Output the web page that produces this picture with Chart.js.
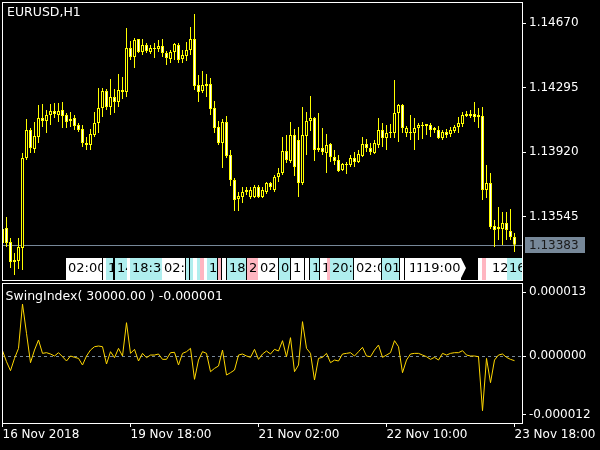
<!DOCTYPE html>
<html>
<head>
<meta charset="utf-8">
<script src="https://cdn.jsdelivr.net/npm/chart.js@4.4.0/dist/chart.umd.min.js"></script>
<style>
  html, body { margin: 0; padding: 0; background: #000; }
  #wrap { position: relative; width: 600px; height: 450px; background: #000; overflow: hidden; }
  canvas { position: absolute; left: 0; }
</style>
</head>
<body>
<div id="wrap">
  <canvas id="price" width="600" height="282" style="top:0"></canvas>
  <canvas id="swing" width="600" height="168" style="top:282px"></canvas>
</div>
<script>
// EURUSD H1 bars, oldest first (bar index 0 .. 128)
const opens = [
  1.13393, 1.13480, 1.13399, 1.13294, 1.13288, 1.13364, 1.13887, 1.14050, 1.13939, 1.14009,
  1.14119, 1.14102, 1.14137, 1.14160, 1.14137, 1.14166, 1.14137, 1.14102, 1.14119, 1.14079,
  1.14056, 1.13974, 1.13962, 1.14021, 1.14090, 1.14178, 1.14276, 1.14183, 1.14242, 1.14213,
  1.14282, 1.14271, 1.14526, 1.14474, 1.14579, 1.14503, 1.14544, 1.14503, 1.14526, 1.14521,
  1.14538, 1.14497, 1.14463, 1.14503, 1.14544, 1.14463, 1.14480, 1.14515, 1.14579, 1.14311,
  1.14276, 1.14306, 1.14317, 1.14178, 1.14067, 1.13974, 1.14096, 1.13904, 1.13759, 1.13649,
  1.13660, 1.13689, 1.13660, 1.13660, 1.13718, 1.13660, 1.13689, 1.13742, 1.13701, 1.13776,
  1.13800, 1.13928, 1.13869, 1.14021, 1.13992, 1.13742, 1.14015, 1.14102, 1.14119, 1.13933,
  1.13945, 1.13916, 1.13968, 1.13893, 1.13875, 1.13817, 1.13852, 1.13846, 1.13887, 1.13864,
  1.13899, 1.13968, 1.13945, 1.13916, 1.13962, 1.14050, 1.14003, 1.14032, 1.14032, 1.14149,
  1.14195, 1.14032, 1.14038, 1.14032, 1.14061, 1.14073, 1.14073, 1.14079, 1.14050, 1.14050,
  1.14003, 1.14038, 1.14026, 1.14044, 1.14067, 1.14085, 1.14131, 1.14143, 1.14143, 1.14125,
  1.14131, 1.13701, 1.13742, 1.13492, 1.13474, 1.13474, 1.13509, 1.13463, 1.13428
];
const highs = [
  1.13492, 1.13544, 1.13422, 1.13335, 1.13422, 1.13916, 1.14114, 1.14061, 1.14096, 1.14195,
  1.14201, 1.14166, 1.14201, 1.14207, 1.14207, 1.14213, 1.14149, 1.14154, 1.14137, 1.14090,
  1.14079, 1.14009, 1.14056, 1.14154, 1.14294, 1.14294, 1.14288, 1.14346, 1.14288, 1.14375,
  1.14358, 1.14643, 1.14567, 1.14585, 1.14579, 1.14579, 1.14556, 1.14544, 1.14556, 1.14573,
  1.14579, 1.14509, 1.14515, 1.14556, 1.14556, 1.14515, 1.14561, 1.14649, 1.14724, 1.14369,
  1.14393, 1.14375, 1.14352, 1.14218, 1.14102, 1.14114, 1.14131, 1.13933, 1.13771, 1.13689,
  1.13718, 1.13718, 1.13718, 1.13730, 1.13730, 1.13718, 1.13747, 1.13747, 1.13788, 1.13829,
  1.14009, 1.14021, 1.14096, 1.14056, 1.14067, 1.14183, 1.14154, 1.14247, 1.14125, 1.14149,
  1.14061, 1.14026, 1.13974, 1.13933, 1.13904, 1.13858, 1.13864, 1.13904, 1.13922, 1.13933,
  1.14009, 1.13997, 1.13974, 1.13992, 1.14119, 1.14090, 1.14079, 1.14085, 1.14341, 1.14201,
  1.14201, 1.14073, 1.14137, 1.14119, 1.14090, 1.14096, 1.14085, 1.14090, 1.14067, 1.14073,
  1.14050, 1.14056, 1.14067, 1.14079, 1.14125, 1.14154, 1.14160, 1.14166, 1.14213, 1.14178,
  1.14183, 1.13846, 1.13800, 1.13526, 1.13602, 1.13573, 1.13573, 1.13590, 1.13451
];
const lows = [
  1.13364, 1.13369, 1.13247, 1.13207, 1.13242, 1.13236, 1.13875, 1.13916, 1.13916, 1.13974,
  1.14067, 1.14032, 1.14079, 1.14119, 1.14096, 1.14061, 1.14061, 1.14067, 1.14050, 1.14038,
  1.13951, 1.13933, 1.13933, 1.14009, 1.14032, 1.14125, 1.14166, 1.14137, 1.14149, 1.14183,
  1.14230, 1.14242, 1.14457, 1.14410, 1.14497, 1.14486, 1.14497, 1.14492, 1.14468, 1.14503,
  1.14474, 1.14428, 1.14439, 1.14457, 1.14439, 1.14439, 1.14451, 1.14486, 1.14282, 1.14213,
  1.14265, 1.14242, 1.14137, 1.14032, 1.13962, 1.13829, 1.13887, 1.13724, 1.13579, 1.13579,
  1.13625, 1.13672, 1.13649, 1.13654, 1.13654, 1.13654, 1.13678, 1.13701, 1.13689, 1.13747,
  1.13788, 1.13858, 1.13858, 1.13782, 1.13660, 1.13730, 1.13904, 1.14044, 1.13869, 1.13922,
  1.13904, 1.13800, 1.13864, 1.13846, 1.13806, 1.13811, 1.13794, 1.13835, 1.13835, 1.13858,
  1.13893, 1.13922, 1.13904, 1.13910, 1.13945, 1.13951, 1.13933, 1.14003, 1.14003, 1.13980,
  1.14032, 1.14009, 1.13992, 1.13933, 1.13992, 1.13997, 1.14021, 1.14009, 1.14032, 1.13997,
  1.13992, 1.14003, 1.14009, 1.14032, 1.14032, 1.14067, 1.14125, 1.14119, 1.14096, 1.14061,
  1.13643, 1.13654, 1.13474, 1.13369, 1.13410, 1.13381, 1.13410, 1.13410, 1.13340
];
const closes = [
  1.13474, 1.13393, 1.13282, 1.13282, 1.13369, 1.13887, 1.14050, 1.13945, 1.14015, 1.14119,
  1.14102, 1.14137, 1.14160, 1.14143, 1.14160, 1.14131, 1.14096, 1.14114, 1.14073, 1.14050,
  1.13974, 1.13962, 1.14026, 1.14090, 1.14178, 1.14276, 1.14183, 1.14242, 1.14213, 1.14282,
  1.14271, 1.14526, 1.14474, 1.14573, 1.14503, 1.14544, 1.14509, 1.14526, 1.14521, 1.14538,
  1.14497, 1.14468, 1.14503, 1.14550, 1.14457, 1.14486, 1.14515, 1.14579, 1.14306, 1.14271,
  1.14311, 1.14317, 1.14172, 1.14061, 1.13974, 1.14096, 1.13899, 1.13759, 1.13643, 1.13666,
  1.13689, 1.13701, 1.13701, 1.13718, 1.13660, 1.13701, 1.13742, 1.13718, 1.13776, 1.13800,
  1.13928, 1.13875, 1.14021, 1.13835, 1.13742, 1.14021, 1.14102, 1.14119, 1.13933, 1.13945,
  1.13922, 1.13962, 1.13893, 1.13869, 1.13811, 1.13852, 1.13846, 1.13887, 1.13864, 1.13910,
  1.13968, 1.13945, 1.13922, 1.13974, 1.14050, 1.14003, 1.14032, 1.14038, 1.14149, 1.14195,
  1.14061, 1.14061, 1.14032, 1.14061, 1.14079, 1.14079, 1.14085, 1.14050, 1.14061, 1.14003,
  1.14038, 1.14021, 1.14050, 1.14067, 1.14090, 1.14137, 1.14143, 1.14131, 1.14125, 1.14137,
  1.13701, 1.13742, 1.13486, 1.13468, 1.13486, 1.13509, 1.13468, 1.13428, 1.13383
];
// SwingIndex(30000.00) per bar
const swingIndex = [
  1.09e-6, -1.16e-6, -2.99e-6, -0.48e-6, 1.56e-6, 10.61e-6, 4.63e-6, -1.36e-6, 1.22e-6, 3.27e-6,
  0.54e-6, 0.68e-6, 0.41e-6, 0, 0.68e-6, -0.14e-6, -1.02e-6, 0, -0.27e-6, -0.48e-6,
  -1.84e-6, 0, 1.22e-6, 1.90e-6, 2.04e-6, 1.90e-6, -1.63e-6, 0.88e-6, -0.34e-6, 1.56e-6,
  0, 6.80e-6, 0.54e-6, 1.36e-6, -1.02e-6, 0.54e-6, -0.34e-6, 0.20e-6, 0.20e-6, 0.41e-6,
  -0.68e-6, -0.68e-6, 0.68e-6, 0.75e-6, -1.84e-6, 0.54e-6, 0.88e-6, 1.56e-6, -4.76e-6, -0.82e-6,
  0.88e-6, 0.54e-6, -3.20e-6, -2.52e-6, -2.04e-6, 1.22e-6, -3.88e-6, -3.40e-6, -2.86e-6, 0.20e-6,
  0.41e-6, 0, -0.27e-6, 1.36e-6, -0.68e-6, 0.41e-6, 1.02e-6, 0.41e-6, 1.36e-6, 1.02e-6,
  3.13e-6, -0.14e-6, 3.74e-6, -3.20e-6, -1.84e-6, 7.01e-6, 1.56e-6, 0.54e-6, -4.90e-6, -0.48e-6,
  -0.27e-6, 0.54e-6, -1.36e-6, -0.82e-6, -1.02e-6, 0.41e-6, 0.54e-6, 0.68e-6, 0, 0.88e-6,
  1.77e-6, 0, -0.14e-6, 1.22e-6, 2.24e-6, -0.27e-6, 0.20e-6, 0.68e-6, 3.13e-6, 1.90e-6,
  -3.40e-6, -0.82e-6, 0.41e-6, 0.54e-6, 0.54e-6, 0.20e-6, -0.14e-6, -0.68e-6, -0.27e-6, -0.82e-6,
  0.54e-6, 0.20e-6, 0.54e-6, 0.68e-6, 0.68e-6, 1.09e-6, 0.20e-6, 0, 0, -0.14e-6,
  -11.16e-6, -0.48e-6, -5.44e-6, -0.82e-6, 0.20e-6, 0.41e-6, -0.27e-6, -0.68e-6, -0.95e-6
];

const priceTicks = [1.13545, 1.13920, 1.14295, 1.14670];
const swingTicks = [-0.000012, 0, 0.000013];
const timeTickBars = [0, 32, 64, 96, 128];
const timeTickLabels = ['16 Nov 2018', '19 Nov 18:00', '21 Nov 02:00', '22 Nov 10:00', '23 Nov 18:00'];
const lastPrice = 1.13383;
const priceMin = 1.131776, priceMax = 1.147939;
const swingMin = -0.00001367, swingMax = 0.0000149;
const barMin = -0.125, barMax = 129.875;

// time label objects along the bottom of the price window: [from bar, to bar, colour, text, arrow]
const timeMarks = [
  [15.875, 24.875, 'w', '02:00'], [25.125, 25.875, 'w', ''], [25.875, 27.625, 'c', '1'],
  [28.125, 31.125, 'c', '14'], [31.125, 31.875, 'w', ''], [31.875, 39.875, 'c', '18:30'],
  [39.875, 45.625, 'w', '02:00'], [45.875, 46.625, 'c', ''], [46.875, 47.625, 'c', ''],
  [47.625, 48.625, 'w', ''], [48.625, 49.375, 'c', ''], [49.375, 50.375, 'p', ''],
  [50.375, 51.125, 'w', ''], [51.125, 53.625, 'c', '1'], [53.875, 54.625, 'p', ''],
  [54.875, 55.875, 'w', ''], [56.125, 60.875, 'c', '18'], [61.125, 63.875, 'p', '2'],
  [63.875, 68.875, 'w', '02'], [69.125, 71.875, 'c', '0'], [72.125, 75.375, 'w', '1'],
  [75.625, 76.625, 'w', ''], [76.875, 79.125, 'c', '1'], [79.375, 81.125, 'w', '1'],
  [81.125, 81.875, 'p', ''], [81.875, 87.625, 'c', '20:00'], [87.875, 94.625, 'w', '02:00'],
  [94.875, 99.125, 'c', '01'], [99.375, 100.375, 'w', ''], [100.625, 101.125, 'w', ''],
  [101.125, 102.875, 'w', '1'], [102.875, 104.625, 'w', '1'], [104.625, 115.875, 'w', '19:00', true],
  [118.875, 119.875, 'w', ''], [119.875, 120.875, 'p', ''], [120.875, 121.875, 'w', ''],
  [121.875, 126.125, 'w', '12'], [126.125, 130.125, 'c', '16']
];
const markColors = { w: '#ffffff', c: '#afeeee', p: '#ffb6c1' };

const FONT = 'DejaVu Sans';
const bodyFill = opens.map((o, i) => closes[i] < o ? '#ffffff' : '#000000');

// keep axis boxes at a fixed size, no label padding
function fixWidth(w) {
  return function (scale) {
    scale.width = w;
    scale.paddingTop = 0; scale.paddingBottom = 0;
    scale.paddingLeft = 0; scale.paddingRight = 0;
  };
}

const priceDecor = {
  id: 'priceDecor',
  beforeDatasetsDraw(chart) {
    const ctx = chart.ctx, a = chart.chartArea;
    const y = Math.round(chart.scales.y.getPixelForValue(lastPrice)) + 0.5;
    ctx.save();
    ctx.strokeStyle = '#778899';
    ctx.lineWidth = 1;
    ctx.beginPath();
    ctx.moveTo(a.left, y);
    ctx.lineTo(a.right, y);
    ctx.stroke();
    ctx.restore();
  },
  afterDatasetsDraw(chart) {
    const ctx = chart.ctx, a = chart.chartArea, xs = chart.scales.x;
    const top = a.bottom - 22, h = 24;
    ctx.save();
    ctx.beginPath();
    ctx.rect(a.left, a.top, a.right - a.left, a.bottom - a.top);
    ctx.clip();
    ctx.font = '13px ' + FONT;
    ctx.textBaseline = 'middle';
    timeMarks.forEach(m => {
      const l = Math.round(xs.getPixelForValue(m[0]));
      const r = Math.round(xs.getPixelForValue(m[1]));
      ctx.save();
      ctx.beginPath();
      if (m[4]) {
        ctx.moveTo(l, top);
        ctx.lineTo(r - 5, top);
        ctx.lineTo(r, top + 10);
        ctx.lineTo(r - 5, top + 20);
        ctx.lineTo(r - 5, top + h);
        ctx.lineTo(l, top + h);
        ctx.closePath();
      } else {
        ctx.rect(l, top, r - l, h);
      }
      ctx.fillStyle = markColors[m[2]];
      ctx.fill();
      ctx.clip();
      ctx.fillStyle = '#000';
      ctx.fillText(m[3], l + 2, top + 10.5);
      ctx.restore();
    });
    ctx.restore();
  },
  afterDraw(chart) {
    const ctx = chart.ctx, a = chart.chartArea;
    ctx.save();
    ctx.strokeStyle = '#fff';
    ctx.lineWidth = 1;
    ctx.strokeRect(a.left + 0.5, a.top + 0.5, a.right - a.left, a.bottom - a.top);
    ctx.fillStyle = '#fff';
    ctx.font = '12.5px ' + FONT;
    ctx.textBaseline = 'middle';
    ctx.fillText('EURUSD,H1', 7, 12.5);
    // last price tag
    const y = Math.round(chart.scales.y.getPixelForValue(lastPrice));
    ctx.fillStyle = '#778899';
    ctx.fillRect(a.right + 3, y - 8, 60, 16);
    ctx.fillStyle = '#1a1a1a';
    ctx.font = '12px ' + FONT;
    ctx.fillText(lastPrice.toFixed(5), a.right + 7, y + 0.5);
    ctx.restore();
  }
};

new Chart(document.getElementById('price'), {
  type: 'bar',
  data: {
    datasets: [
      {
        data: opens.map((o, i) => ({ x: i, y: [o, closes[i]] })),
        backgroundColor: bodyFill,
        borderColor: '#ffff00',
        borderWidth: 1,
        borderSkipped: false,
        inflateAmount: 0,
        barPercentage: 1,
        categoryPercentage: 1,
        maxBarThickness: 3,
        minBarLength: 1,
        grouped: false,
        order: 0
      },
      {
        data: lows.map((l, i) => ({ x: i, y: [l, highs[i]] })),
        backgroundColor: '#ffff00',
        borderWidth: 0,
        inflateAmount: 0,
        barPercentage: 1,
        categoryPercentage: 1,
        maxBarThickness: 1,
        grouped: false,
        order: 1
      }
    ]
  },
  options: {
    responsive: false,
    animation: false,
    devicePixelRatio: 1,
    layout: { padding: { left: 2, top: 2, right: 0, bottom: 2 } },
    plugins: { legend: { display: false }, tooltip: { enabled: false } },
    scales: {
      x: { type: 'linear', min: barMin, max: barMax, offset: false, display: false },
      y: {
        position: 'right',
        min: priceMin,
        max: priceMax,
        afterBuildTicks: s => { s.ticks = priceTicks.map(v => ({ value: v })); },
        afterFit: fixWidth(78),
        ticks: {
          color: '#fff',
          padding: 3,
          font: { family: FONT, size: 12 },
          callback: v => v.toFixed(5)
        },
        grid: { drawOnChartArea: false, drawTicks: true, tickLength: 4, color: '#fff' },
        border: { display: false }
      }
    }
  },
  plugins: [priceDecor]
});

const swingDecor = {
  id: 'swingDecor',
  beforeDatasetsDraw(chart) {
    const ctx = chart.ctx, a = chart.chartArea;
    const y = Math.round(chart.scales.y.getPixelForValue(0)) + 0.5;
    ctx.save();
    ctx.strokeStyle = '#778899';
    ctx.lineWidth = 1;
    ctx.setLineDash([3, 3]);
    ctx.beginPath();
    ctx.moveTo(a.left, y);
    ctx.lineTo(a.right, y);
    ctx.stroke();
    ctx.restore();
  },
  afterDraw(chart) {
    const ctx = chart.ctx, a = chart.chartArea;
    ctx.save();
    ctx.strokeStyle = '#fff';
    ctx.lineWidth = 1;
    ctx.strokeRect(a.left + 0.5, a.top + 0.5, a.right - a.left, a.bottom - a.top);
    ctx.fillStyle = '#fff';
    ctx.font = '12.5px ' + FONT;
    ctx.textBaseline = 'middle';
    const last = swingIndex[swingIndex.length - 1];
    ctx.fillText('SwingIndex( 30000.00 ) ' + last.toFixed(6), 5.5, 14.5);
    ctx.restore();
  }
};

new Chart(document.getElementById('swing'), {
  type: 'line',
  data: {
    datasets: [{
      data: swingIndex.map((v, i) => ({ x: i, y: v })),
      borderColor: '#ffd700',
      borderWidth: 1,
      pointRadius: 0,
      tension: 0,
      fill: false
    }]
  },
  options: {
    responsive: false,
    animation: false,
    devicePixelRatio: 1,
    layout: { padding: { left: 2, top: 1, right: 0, bottom: 0 } },
    plugins: { legend: { display: false }, tooltip: { enabled: false } },
    scales: {
      x: {
        type: 'linear',
        min: barMin,
        max: barMax,
        afterBuildTicks: s => { s.ticks = timeTickBars.map(v => ({ value: v })); },
        afterFit: s => { s.height = 27; s.paddingLeft = 0; s.paddingRight = 0; },
        ticks: {
          color: '#fff',
          autoSkip: false,
          maxRotation: 0,
          align: 'start',
          padding: 1,
          font: { family: FONT, size: 12 },
          callback: (v, i) => timeTickLabels[i]
        },
        grid: { drawOnChartArea: false, drawTicks: true, tickLength: 4, color: '#fff' },
        border: { display: false }
      },
      y: {
        position: 'right',
        min: swingMin,
        max: swingMax,
        afterBuildTicks: s => { s.ticks = swingTicks.map(v => ({ value: v })); },
        afterFit: fixWidth(78),
        ticks: {
          color: '#fff',
          padding: 3,
          font: { family: FONT, size: 12 },
          callback: v => v.toFixed(6)
        },
        grid: { drawOnChartArea: false, drawTicks: true, tickLength: 4, color: '#fff' },
        border: { display: false }
      }
    }
  },
  plugins: [swingDecor]
});
</script>
</body>
</html>
